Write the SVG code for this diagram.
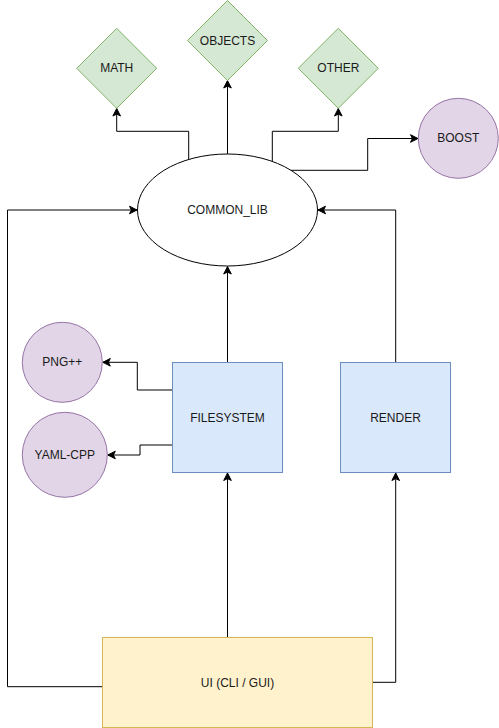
<svg xmlns="http://www.w3.org/2000/svg" width="499" height="728" viewBox="0 0 499 728">
<style>
text{font-family:"Liberation Sans",Arial,sans-serif;font-size:12px;fill:#1a1a1a;text-anchor:middle;dominant-baseline:central}
.green{fill:#d5e8d4;stroke:#82b366;stroke-width:1}
.purple{fill:#e1d5e7;stroke:#9673a6;stroke-width:1}
.blue{fill:#dae8fc;stroke:#6c8ebf;stroke-width:1}
.yellow{fill:#fff2cc;stroke:#d6b656;stroke-width:1}
.edge{fill:none;stroke:#000;stroke-width:1;marker-end:url(#arr)}
</style>
<defs>
<marker id="arr" markerUnits="userSpaceOnUse" viewBox="-8 -5 9 10" refX="0" refY="0" markerWidth="9" markerHeight="10" orient="auto">
<path d="M0,0 L-7.5,-3.8 L-5.6,0 L-7.5,3.8 Z" fill="#000" stroke="#000" stroke-width="1"/>
</marker>
</defs>
<rect width="499" height="728" fill="#fff"/>
<g id="connectors">
<path class="edge" d="M188.7,159.4 V131.3 H116.7 V108.5"/>
<path class="edge" d="M227.5,154 V80.5"/>
<path class="edge" d="M272.3,161.5 V131.3 H338.3 V108.5"/>
<path class="edge" d="M290.5,170.3 H367.7 V138.5 H418"/>
<path class="edge" d="M102.5,686.7 H7.5 V210 H137"/>
<path class="edge" d="M395.7,362.5 V210 H318"/>
<path class="edge" d="M227.5,362.5 V266.5"/>
<path class="edge" d="M172.5,390 H137.3 V362.3 H102.8"/>
<path class="edge" d="M172.5,445 H140 V455 H107.8"/>
<path class="edge" d="M227.5,637.5 V473"/>
<path class="edge" d="M372.5,682.3 H395.7 V473"/>
</g>
<g id="math"><path class="green" d="M116.7,28.3 L156.7,68.3 L116.7,108.3 L76.7,68.3 Z"/><text x="116.7" y="68.3">MATH</text></g>
<g id="objects"><path class="green" d="M227.5,0.5 L267.5,40.5 L227.5,80.5 L187.5,40.5 Z"/><text x="227.5" y="40.5">OBJECTS</text></g>
<g id="other"><path class="green" d="M338.3,28.3 L378.3,68.3 L338.3,108.3 L298.3,68.3 Z"/><text x="338.3" y="68.3">OTHER</text></g>
<g id="boost"><circle class="purple" cx="458.3" cy="138.3" r="40"/><text x="458.3" y="138.3">BOOST</text></g>
<g id="common_lib"><ellipse cx="227.5" cy="210" rx="90" ry="56" fill="#fff" stroke="#000"/><text x="227.5" y="210">COMMON_LIB</text></g>
<g id="png"><circle class="purple" cx="62.3" cy="362.3" r="40"/><text x="62.3" y="362.3">PNG++</text></g>
<g id="yaml"><circle class="purple" cx="64.8" cy="454.8" r="42.5"/><text x="64.8" y="454.8">YAML-CPP</text></g>
<g id="filesystem"><rect class="blue" x="172.5" y="362.5" width="110" height="110"/><text x="227.5" y="417.5">FILESYSTEM</text></g>
<g id="render"><rect class="blue" x="340.5" y="362.5" width="110" height="110"/><text x="395.5" y="417.5">RENDER</text></g>
<g id="ui"><rect class="yellow" x="102.5" y="637.5" width="270" height="90"/><text x="237.5" y="682.5">UI (CLI / GUI)</text></g>
</svg>
